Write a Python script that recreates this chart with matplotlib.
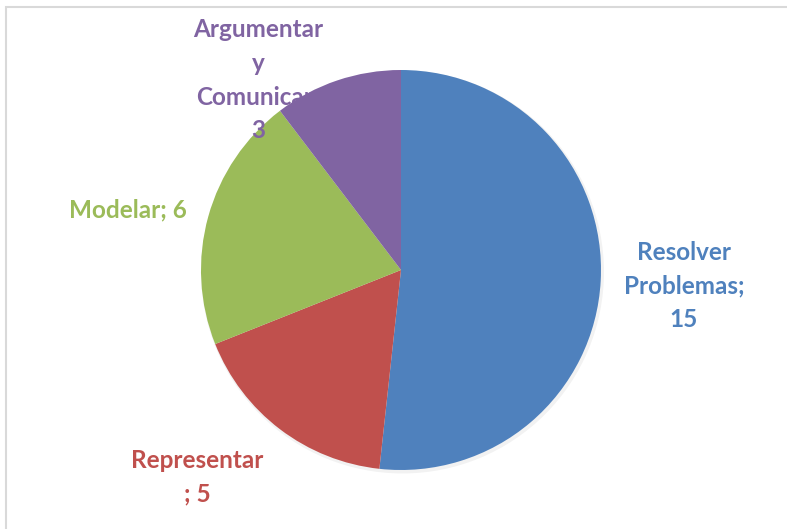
import matplotlib.pyplot as plt
from matplotlib.patches import Rectangle

categories = ["Resolver\nProblemas", "Representar\n", "Modelar", "Argumentar\ny\nComunicar"]
values = [15, 5, 6, 3]
colors = ["#4F81BD", "#C0504D", "#9BBB59", "#8064A2"]

W, H = 787, 529
fig = plt.figure(figsize=(W / 100, H / 100), dpi=100)
ax = fig.add_axes([0, 0, 1, 1])

# chart frame (only left/top visible)
ax.add_patch(Rectangle((6, -10), W + 20, H - 7 + 10, fill=False,
                       edgecolor="#D9D9D9", linewidth=1.5, zorder=0))

cx, cy, r = 401, H - 270, 200

# faint shadow
ax.pie([1], colors=["#000000"], radius=r + 1.5, center=(cx + 1.5, cy - 2),
       wedgeprops=dict(alpha=0.05, linewidth=0), frame=True)
wedges, _ = ax.pie(values, colors=colors, radius=r, center=(cx, cy),
                   startangle=90, counterclock=False,
                   wedgeprops=dict(linewidth=0), frame=True)
for w in wedges:
    w.set_zorder(2)
wedges[-1].set_zorder(4)  # purple slice sits over its own label
ax.set_xlim(0, W)
ax.set_ylim(0, H)
ax.set_aspect("equal")
ax.axis("off")

label_pos = [(684, 286), (197, 477), (128, 210), (258, 80)]
font = dict(family=["Lato", "DejaVu Sans"], fontsize=17.5, fontweight="bold",
            ha="center", va="center", linespacing=1.55, zorder=3)
for cat, val, col, (px, py) in zip(categories, values, colors, label_pos):
    if cat.endswith("\n"):
        txt = f"{cat}; {val}"
    else:
        txt = f"{cat};\n{val}" if "\n" in cat else f"{cat}; {val}"
    ax.text(px, H - py, txt, color=col, **font)

fig.savefig("out.png", dpi=100)
